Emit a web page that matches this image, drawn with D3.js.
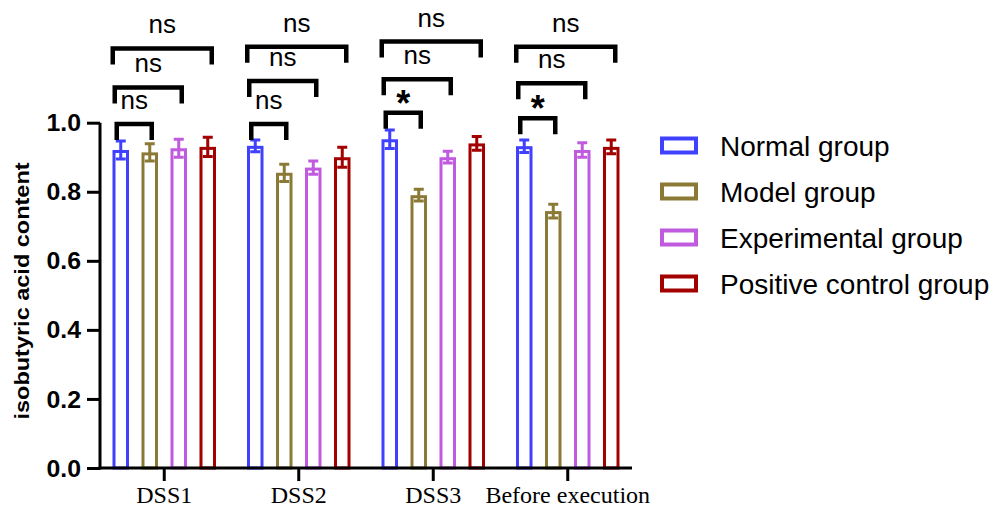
<!DOCTYPE html>
<html><head><meta charset="utf-8">
<script src="https://cdn.jsdelivr.net/npm/d3@7"></script>
<style>html,body{margin:0;padding:0;background:#fff;}svg{display:block;}</style>
</head><body>
<svg id="chart" width="1000" height="510"></svg>
<script>
// ---- data ----
const categories = ["DSS1", "DSS2", "DSS3", "Before execution"];
const seriesNames = ["Normal group", "Model group", "Experimental group", "Positive control group"];
const seriesColors = ["#4040FF", "#8B7A35", "#C05BE0", "#A30000"];
const normalMean = [0.921, 0.933, 0.952, 0.932];
const normalErr = [0.026, 0.017, 0.027, 0.018];
const modelMean = [0.914, 0.855, 0.790, 0.744];
const modelErr = [0.025, 0.025, 0.017, 0.020];
const experimentalMean = [0.926, 0.870, 0.900, 0.921];
const experimentalErr = [0.026, 0.019, 0.017, 0.021];
const positiveMean = [0.930, 0.900, 0.940, 0.930];
const positiveErr = [0.028, 0.029, 0.020, 0.020];
const yTicks = [0.0, 0.2, 0.4, 0.6, 0.8, 1.0];
// significance brackets: [category, fromSeries, toSeries, level, label]
const sigBrackets = [
  ["DSS1", 0, 1, 0.996, "ns"], ["DSS1", 0, 2, 1.102, "ns"], ["DSS1", 0, 3, 1.215, "ns"],
  ["DSS2", 0, 1, 0.996, "ns"], ["DSS2", 0, 2, 1.121, "ns"], ["DSS2", 0, 3, 1.220, "ns"],
  ["DSS3", 0, 1, 1.029, "*"], ["DSS3", 0, 2, 1.126, "ns"], ["DSS3", 0, 3, 1.235, "ns"],
  ["Before execution", 0, 1, 1.013, "*"], ["Before execution", 0, 2, 1.114, "ns"], ["Before execution", 0, 3, 1.220, "ns"]
];

const means = [normalMean, modelMean, experimentalMean, positiveMean];
const errs = [normalErr, modelErr, experimentalErr, positiveErr];

const svg = d3.select("#chart");
const x0 = d3.scaleBand().domain(categories).range([97, 635]);
const x1 = d3.scaleBand().domain(d3.range(4)).range([-58, 58]).paddingInner(0.534).paddingOuter(0.267);
const y = d3.scaleLinear().domain([0, 1]).range([468, 122.7]);
const cx = (c, s) => x0(c) + x0.bandwidth() / 2 + x1(s) + x1.bandwidth() / 2;

const rows = [];
categories.forEach((c, i) => seriesNames.forEach((n, s) => rows.push({c, s, m: means[s][i], e: errs[s][i]})));

// bars
svg.append("g").selectAll("rect").data(rows).join("rect")
  .attr("x", d => cx(d.c, d.s) - x1.bandwidth() / 2)
  .attr("width", x1.bandwidth())
  .attr("y", d => y(d.m) + 1.5)
  .attr("height", d => y(0) - y(d.m) - 1.5)
  .attr("fill", "#fff")
  .attr("stroke", d => seriesColors[d.s])
  .attr("stroke-width", 3);

// error bars
const eb = svg.append("g").selectAll("g").data(rows).join("g")
  .attr("stroke", d => seriesColors[d.s]).attr("stroke-width", 3).attr("fill", "none");
eb.append("path").attr("d", d => {
  const x = cx(d.c, d.s), t = y(d.m + d.e), b = y(d.m - d.e);
  return `M${x},${t}V${b}M${x - 5},${t}H${x + 5}M${x - 5},${b}H${x + 5}`;
});

// axes
const yAxis = d3.axisLeft(y).tickValues(yTicks).tickFormat(d3.format(".1f")).tickSize(13).tickPadding(5);
const gy = svg.append("g").attr("transform", "translate(100,0)").call(yAxis);
gy.select(".domain").attr("d", `M0,${y(1)}V${y(0) + 1.5}`).attr("stroke-width", 3).attr("stroke", "#000");
gy.selectAll(".tick line").attr("stroke-width", 3).attr("stroke", "#000");
gy.selectAll(".tick text").attr("font-family", "Liberation Sans, Arial, sans-serif")
  .attr("font-weight", "bold").attr("font-size", 23).attr("fill", "#000")
  .attr("transform", "scale(1.08,1)").attr("x", -19 / 1.08).attr("dy", "0.35em");

const xAxis = d3.axisBottom(x0).tickSize(13).tickPadding(9);
const gx = svg.append("g").attr("transform", `translate(0,${y(0)})`).call(xAxis);
gx.select(".domain").attr("d", "M98.5,0H632").attr("stroke-width", 3).attr("stroke", "#000");
gx.selectAll(".tick line").attr("stroke-width", 3).attr("stroke", "#000");
gx.selectAll(".tick text").attr("font-family", "Liberation Serif, Times New Roman, serif")
  .attr("font-size", 24).attr("fill", "#000").attr("dy", 0).attr("y", 35);

// y title
svg.append("text")
  .attr("transform", "translate(29,291) scale(0.86,1) rotate(-90)")
  .attr("text-anchor", "middle")
  .attr("font-family", "Liberation Sans, Arial, sans-serif")
  .attr("font-weight", "bold").attr("font-size", 23.5)
  .text("isobutyric acid content");

// significance brackets
const bg = svg.append("g");
sigBrackets.forEach(([c, a, b, lvl, lab], i) => {
  const k = i % 3;
  const xl = cx(c, a) - 4 - 2 * k, xr = cx(c, b) + 2 + k;
  const yy = y(lvl);
  bg.append("path").attr("d", `M${xl},${yy + 16}V${yy}H${xr}V${yy + 16}`)
    .attr("fill", "none").attr("stroke", "#000").attr("stroke-width", 4.5).attr("stroke-linejoin", "miter");
  const mid = (xl + xr) / 2;
  if (lab === "*") {
    bg.append("text").attr("x", mid).attr("y", yy + 3).attr("text-anchor", "middle")
      .attr("font-family", "Liberation Sans, Arial, sans-serif").attr("font-weight", "bold")
      .attr("font-size", 36).text(lab);
  } else {
    bg.append("text").attr("x", mid).attr("y", yy - 15).attr("text-anchor", "middle")
      .attr("font-family", "Liberation Sans, Arial, sans-serif")
      .attr("font-size", 26).text(lab);
  }
});

// legend
const lg = svg.append("g").selectAll("g").data(seriesNames).join("g")
  .attr("transform", (d, i) => `translate(660,${145.5 + i * 46})`);
lg.append("rect").attr("x", 2).attr("y", -7).attr("width", 34).attr("height", 14)
  .attr("fill", "#fff").attr("stroke", (d, i) => seriesColors[i]).attr("stroke-width", 4);
lg.append("text").attr("x", 60).attr("y", 10.5)
  .attr("font-family", "Liberation Sans, Arial, sans-serif").attr("font-size", 28)
  .attr("fill", "#000").text(d => d);
</script>
</body></html>
